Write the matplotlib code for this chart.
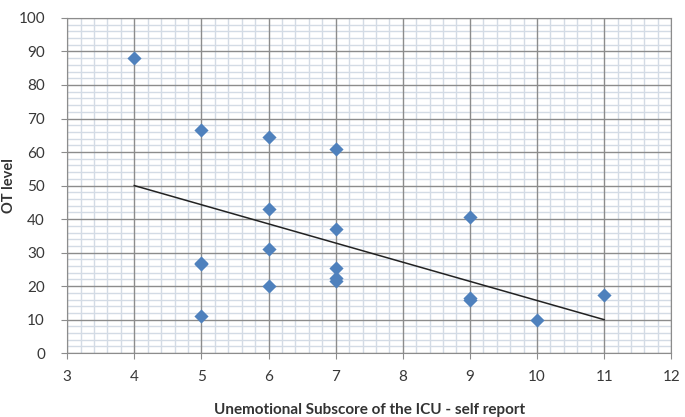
import numpy as np
import matplotlib.pyplot as plt
from matplotlib.ticker import MultipleLocator

# Scatter data
icu_score = [4, 5, 5, 5, 5, 6, 6, 6, 6, 7, 7, 7, 7, 7, 9, 9, 9, 10, 11]
ot_level = [88, 66.5, 27, 26.5, 11, 64.5, 43, 31, 20, 61, 37, 25.5, 22.5, 21.5, 40.5, 16.5, 16, 10, 17.5]

# Linear trend line end points
trend_x = [4, 11]
trend_y = [50, 10]

x_major = np.arange(3, 13, 1)
y_major = np.arange(0, 101, 10)

plt.rcParams['font.family'] = ['Lato', 'DejaVu Sans']

fig = plt.figure(figsize=(6.85, 4.17), dpi=100)
ax = fig.add_axes([0.098, 0.153, 0.882, 0.804])

ax.set_xlim(3, 12)
ax.set_ylim(0, 100)
ax.set_xticks(x_major)
ax.set_yticks(y_major)
ax.xaxis.set_minor_locator(MultipleLocator(0.2))
ax.yaxis.set_minor_locator(MultipleLocator(2))

# light minor grid, then the darker major lines drawn on top of it
ax.grid(which='minor', color='#d3dbe5', linewidth=1.0, zorder=0.5)
for xv in x_major:
    ax.axvline(xv, color='#8c8c8c', linewidth=1.0, zorder=1)
for yv in y_major:
    ax.axhline(yv, color='#8c8c8c', linewidth=1.0, zorder=1)
ax.set_axisbelow(True)

ax.plot(trend_x, trend_y, color='#222222', linewidth=1.1, zorder=3)
ax.scatter(icu_score, ot_level, marker='D', s=52, color='#4f81bd', zorder=4, linewidths=0)

for s in ax.spines.values():
    s.set_color('#8c8c8c')

ax.tick_params(which='major', length=4, color='#8c8c8c', labelsize=11, labelcolor='#383838')
ax.tick_params(axis='x', which='major', pad=8)
ax.tick_params(axis='y', which='major', pad=12)
ax.tick_params(which='minor', length=0)

ax.set_xlabel('Unemotional Subscore of the ICU - self report', fontsize=11, fontweight='bold', color='#333333', labelpad=14)
ax.set_ylabel('OT level', fontsize=10.5, fontweight='bold', color='#333333', labelpad=2)

fig.savefig('out.png', dpi=100)
